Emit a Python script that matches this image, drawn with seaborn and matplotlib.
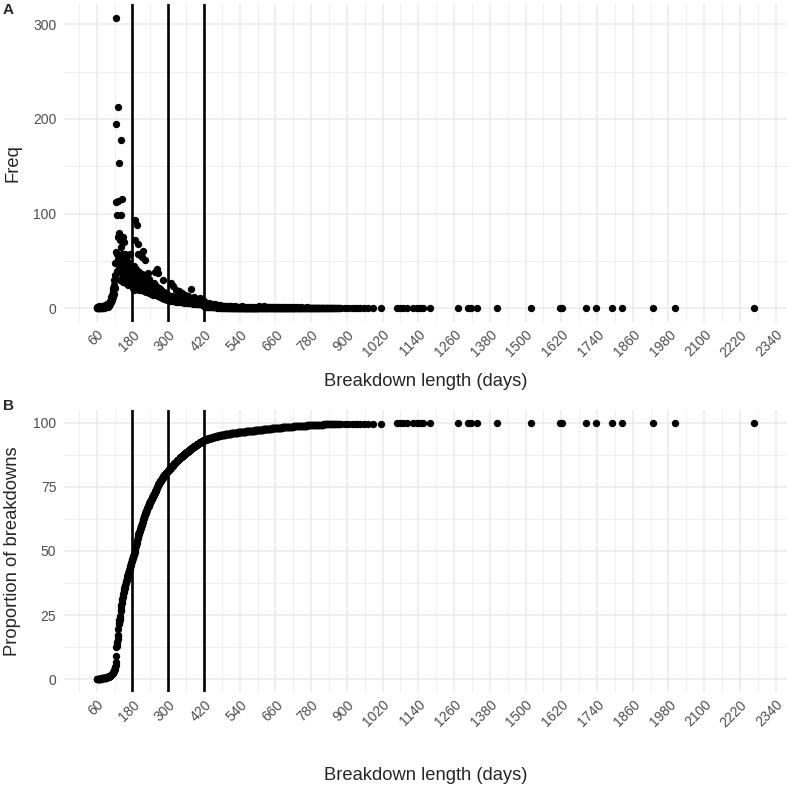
import numpy as np
import pandas as pd
import matplotlib
matplotlib.use("Agg")
import matplotlib.pyplot as plt
import seaborn as sns

# ---------------- data (frequency of breakdowns by length in days) ----------------
start_a = 60
freq_060_119 = [1, 1, 2, 1, 1, 1, 2, 1, 3, 1, 2, 1, 1, 2, 1, 3, 2, 1, 2, 1,
                2, 3, 1, 2, 2, 1, 3, 2, 4, 2, 3, 2, 4, 3, 2, 5, 3, 4, 2, 5,
                4, 6, 3, 7, 5, 8, 6, 9, 12, 7, 10, 14, 9, 16, 12, 18, 22, 15, 25, 30]
freq_120_179 = [35, 48, 22, 60, 112, 195, 306, 58, 99, 40,
                75, 113, 52, 213, 154, 45, 80, 30, 72, 55,
                178, 42, 99, 65, 58, 115, 36, 75, 50, 28,
                70, 44, 38, 52, 30, 58, 35, 49, 42, 27,
                55, 40, 31, 46, 34, 25, 49, 36, 33, 43,
                29, 57, 34, 27, 40, 44, 30, 38, 25, 41]
freq_180_299 = [26, 38, 22, 32, 45, 27, 20, 40, 93, 72,
                28, 34, 22, 42, 25, 88, 35, 68, 29, 23,
                58, 27, 38, 20, 31, 25, 56, 22, 33, 26,
                20, 36, 24, 54, 29, 61, 21, 31, 24, 18,
                35, 51, 22, 28, 19, 33, 24, 17, 29, 22,
                27, 37, 20, 24, 16, 31, 21, 26, 18, 23,
                28, 15, 24, 20, 27, 17, 22, 19, 14, 24,
                21, 17, 27, 16, 20, 38, 17, 21, 14, 19,
                24, 42, 16, 21, 37, 17, 13, 20, 16, 22,
                13, 18, 15, 21, 12, 17, 19, 13, 16, 11,
                17, 14, 30, 12, 15, 10, 17, 13, 12, 16,
                10, 14, 12, 11, 15, 9, 12, 13, 10, 12]
freq_300_419 = [14, 10, 12, 9, 13, 11, 8, 12, 10, 27,
                11, 9, 13, 8, 12, 10, 24, 9, 11, 8,
                12, 9, 10, 8, 11, 20, 9, 7, 10, 12,
                8, 10, 9, 11, 7, 18, 9, 8, 10, 7,
                9, 11, 8, 7, 10, 9, 16, 8, 7, 9,
                8, 10, 7, 9, 6, 8, 14, 7, 9, 8,
                7, 9, 6, 8, 10, 7, 6, 13, 8, 7,
                9, 6, 8, 7, 6, 9, 7, 8, 21, 6,
                7, 8, 6, 9, 5, 7, 6, 8, 12, 6,
                7, 5, 8, 6, 7, 5, 6, 10, 7, 5,
                6, 8, 5, 7, 6, 5, 11, 6, 5, 7,
                5, 6, 7, 5, 9, 6, 5, 6, 4, 8]
freq_420_599 = [4, 3, 5, 2, 4, 3, 5, 2, 3, 4, 2, 5, 3, 2, 4, 3, 6, 2, 3, 4,
                2, 3, 4, 2, 4, 3, 2, 4, 3, 2, 3, 5, 2, 3, 2, 4, 3, 2, 5, 2,
                3, 2, 4, 2, 3, 1, 2, 4, 2, 3, 2, 1, 3, 2, 4, 2, 1, 3, 2, 2,
                1, 3, 2, 2, 3, 1, 2, 3, 1, 2, 1, 3, 2, 1, 2, 3, 1, 2, 1, 2,
                2, 1, 3, 1, 2, 1, 2, 3, 1, 2, 1, 1, 3, 1, 2, 1, 2, 1, 2, 1,
                1, 2, 1, 1, 3, 1, 2, 1, 1, 2, 1, 2, 1, 1, 2, 1, 1, 2, 1, 1,
                2, 1, 1, 1, 2, 1, 1, 3, 1, 1, 1, 2, 1, 1, 1, 2, 1, 1, 1, 1,
                1, 1, 2, 1, 1, 1, 1, 1, 2, 1, 1, 1, 1, 1, 2, 1, 1, 1, 1, 1,
                1, 1, 1, 2, 1, 1, 1, 1, 1, 1, 1, 2, 1, 1, 1, 1, 1, 1, 1, 1]
freq_600_879 = [1, 2, 1, 1, 3, 1, 2, 1, 1, 2, 1, 1, 2, 1, 0, 1, 2, 1, 1, 1,
                2, 1, 1, 3, 1, 1, 2, 1, 0, 1, 1, 2, 1, 1, 1, 2, 1, 0, 1, 2,
                1, 1, 2, 1, 1, 0, 1, 2, 1, 1, 1, 1, 2, 0, 1, 1, 1, 2, 1, 1,
                0, 1, 1, 1, 2, 1, 1, 0, 1, 1, 2, 1, 1, 1, 0, 1, 1, 2, 1, 1,
                1, 0, 1, 1, 2, 1, 1, 1, 0, 1, 1, 1, 2, 1, 0, 1, 1, 1, 1, 0,
                1, 2, 1, 1, 0, 1, 1, 1, 0, 1, 1, 2, 1, 0, 1, 1, 1, 0, 1, 1,
                0, 1, 1, 2, 1, 0, 1, 1, 0, 1, 1, 1, 0, 1, 2, 1, 0, 1, 1, 0,
                1, 1, 0, 1, 1, 1, 0, 2, 1, 0, 1, 1, 0, 1, 0, 1, 1, 0, 1, 1,
                1, 0, 1, 1, 0, 1, 2, 0, 1, 0, 1, 1, 0, 1, 1, 0, 1, 0, 1, 1,
                0, 1, 0, 1, 1, 0, 1, 1, 0, 1, 0, 1, 1, 0, 1, 0, 1, 1, 0, 1,
                0, 1, 1, 0, 1, 0, 1, 0, 1, 1, 0, 1, 0, 1, 0, 1, 1, 0, 1, 0,
                0, 1, 1, 0, 1, 0, 1, 0, 0, 1, 1, 0, 1, 0, 1, 0, 0, 1, 0, 1,
                1, 0, 0, 1, 0, 1, 0, 1, 0, 0, 1, 1, 0, 0, 1, 0, 1, 0, 0, 1,
                0, 1, 0, 0, 1, 0, 0, 1, 0, 1, 0, 0, 1, 0, 0, 1, 0, 0, 0, 1]
tail_days = [893, 905, 917, 926, 935, 945, 958, 970, 988, 1014,
             1068, 1080, 1089, 1103, 1123, 1136, 1146, 1156, 1180,
             1273, 1307, 1317, 1337, 1404, 1519, 1616, 1623, 1704, 1737,
             1791, 1825, 1929, 2003, 2268]
tail_freq = [1] * len(tail_days)

cutoffs = [180, 300, 420]
x_breaks = list(range(60, 2341, 120))
x_minor = list(range(0, 2341, 120))

# ---------------- assemble table ----------------
dense = (freq_060_119 + freq_120_179 + freq_180_299 + freq_300_419
         + freq_420_599 + freq_600_879)
dense_days = [start_a + i for i in range(len(dense))]
df = pd.DataFrame({"length": dense_days + tail_days,
                   "Freq": dense + tail_freq})
df = df[df["Freq"] > 0].sort_values("length").reset_index(drop=True)
df["prop"] = df["Freq"].cumsum() / df["Freq"].sum() * 100

# ---------------- style ----------------
sns.set_theme(style="white")
plt.rcParams['font.family'] = ['Liberation Sans', 'DejaVu Sans']

W, H = 789, 787
fig = plt.figure(figsize=(W / 100, H / 100), dpi=100)
L, R = 64, 787
axA = fig.add_axes([L / W, 1 - 322 / H, (R - L) / W, (322 - 4) / H])
axB = fig.add_axes([L / W, 1 - 692 / H, (R - L) / W, (692 - 410) / H])

grid_c = "#EBEBEB"
txt_c = "#4D4D4D"


def style_axis(ax, ymaj, ymin, ylim):
    ax.set_xlim(-50, 2378)
    ax.set_ylim(*ylim)
    ax.set_xticks(x_breaks)
    ax.set_xticks([m for m in x_minor if m not in x_breaks], minor=True)
    ax.set_yticks(ymaj)
    ax.set_yticks(ymin, minor=True)
    ax.grid(True, which="major", color=grid_c, linewidth=1.1, zorder=0)
    ax.grid(True, which="minor", color=grid_c, linewidth=0.55, zorder=0)
    ax.set_axisbelow(True)
    for s in ax.spines.values():
        s.set_visible(False)
    ax.tick_params(which="both", length=0)
    ax.tick_params(axis="y", labelsize=10, labelcolor=txt_c, pad=5.5)
    ax.tick_params(axis="x", labelsize=10, labelcolor=txt_c, pad=4)
    ax.set_xticklabels([str(b) for b in x_breaks], rotation=45,
                       ha="right", va="top", rotation_mode="anchor")
    ax.set_xlabel("")
    ax.set_ylabel("")
    ax.set_facecolor("white")


# Panel A
sns.scatterplot(data=df, x="length", y="Freq", ax=axA, color="black",
                s=28, linewidth=0, zorder=3)
for c in cutoffs:
    axA.axvline(c, color="black", linewidth=1.9, zorder=2)
style_axis(axA, [0, 100, 200, 300], [50, 150, 250], (-14.25, 321.25))

# Panel B
sns.scatterplot(data=df, x="length", y="prop", ax=axB, color="black",
                s=28, linewidth=0, zorder=3)
for c in cutoffs:
    axB.axvline(c, color="black", linewidth=1.9, zorder=2)
style_axis(axB, [0, 25, 50, 75, 100], [12.5, 37.5, 62.5, 87.5], (-5, 105))

cx = (L + R) / 2 / W
fig.text(cx, 1 - 382 / H, "Breakdown length (days)", fontsize=13.2,
         ha="center", va="center")
fig.text(cx, 1 - 775 / H, "Breakdown length (days)", fontsize=13.2,
         ha="center", va="center")
fig.text(13 / W, 1 - 163 / H, "Freq", fontsize=13.2, rotation=90,
         ha="center", va="center")
fig.text(13 / W, 1 - 551 / H, "Proportion of breakdowns", fontsize=13.2,
         rotation=90, ha="center", va="center")

fig.text(3 / W, 1 - 10 / H, "A", fontsize=11, fontweight="bold", va="center", ha="left")
fig.text(3 / W, 1 - 406 / H, "B", fontsize=11, fontweight="bold", va="center", ha="left")

fig.savefig("out.png", dpi=100)
